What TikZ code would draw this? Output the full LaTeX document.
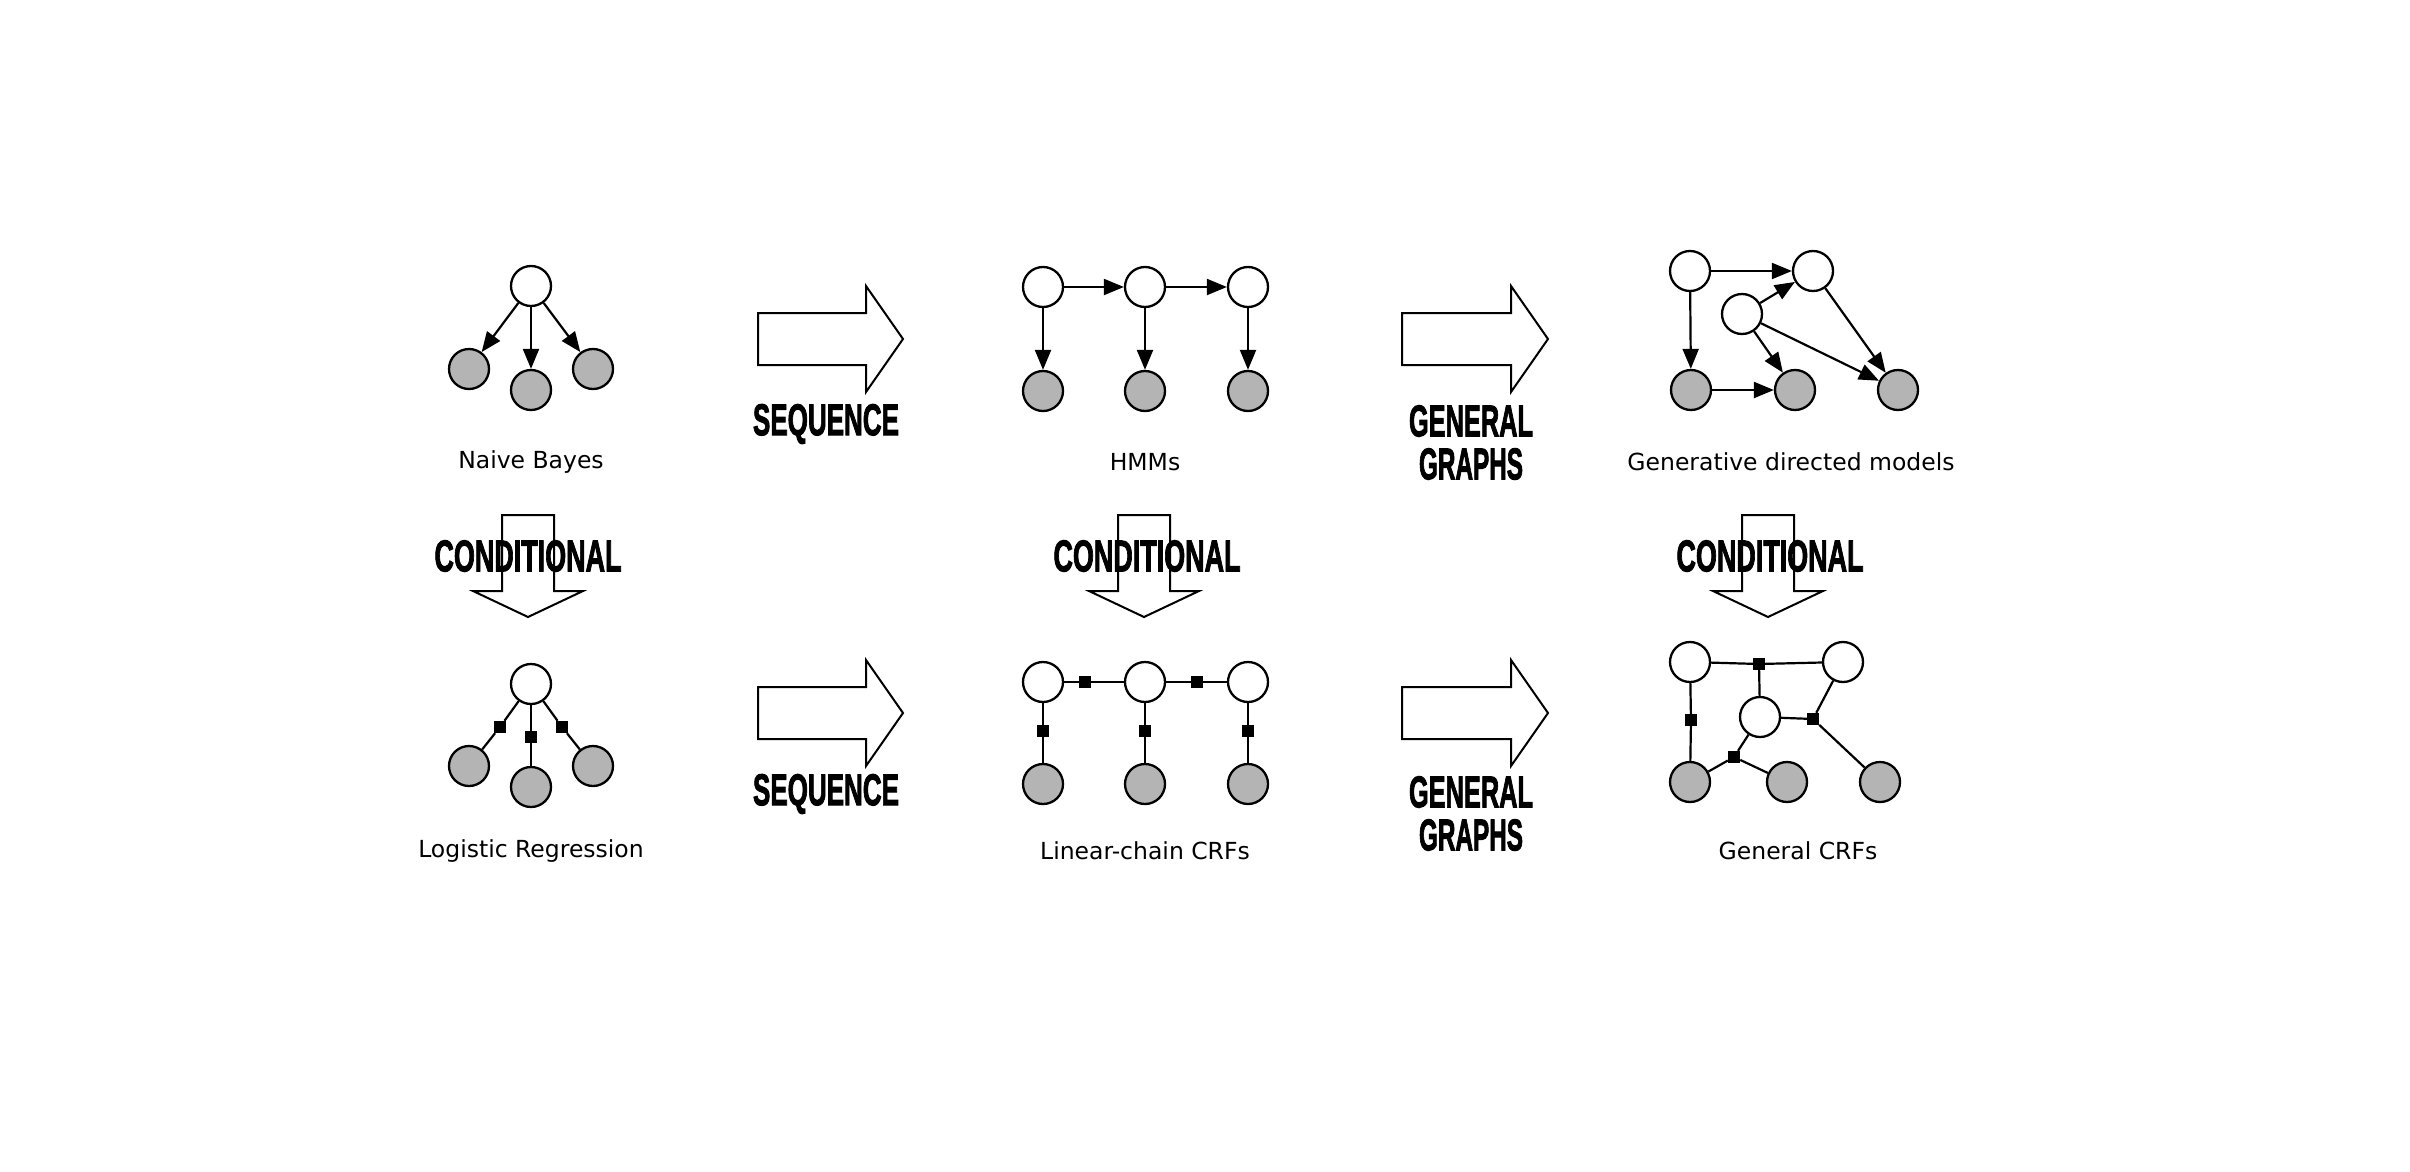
\documentclass[tikz,border=0pt]{standalone}
\usepackage{fontspec}
\usepackage{graphicx}
\setmainfont{DejaVu Sans}
\newfontfamily\heavyfont[BoldFeatures={FakeBold=2.5}]{Liberation Sans}
\usetikzlibrary{arrows.meta}
\definecolor{obsgray}{RGB}{180,180,180}
\newcommand{\bigword}[3]{\resizebox{#1pt}{#2pt}{\heavyfont\bfseries #3}}
\tikzset{
  lat/.style={circle, draw, line width=2.3pt, minimum size=40pt, inner sep=0pt, fill=white},
  obs/.style={lat, fill=obsgray},
  fac/.style={rectangle, fill=black, minimum size=12pt, inner sep=0pt},
  dir/.style={line width=2.2pt, -{Triangle[length=20pt,width=16pt]}},
  und/.style={line width=2.2pt},
  lbl/.style={font=\fontsize{23.5}{28}\selectfont, inner sep=0pt},
  fat/.style={line width=2pt, fill=white, line join=miter},
  word/.style={inner sep=0pt}
}
\begin{document}
\begin{tikzpicture}[x=1pt,y=-1pt]
\useasboundingbox (0,0) rectangle (2410,1172);

% ---------- Naive Bayes ----------
\node[lat] (nb0) at (531,286) {};
\node[obs] (nb1) at (469,369) {};
\node[obs] (nb2) at (531,390) {};
\node[obs] (nb3) at (593,369) {};
\draw[dir] (nb0) -- (nb1);
\draw[dir] (nb0) -- (nb2);
\draw[dir] (nb0) -- (nb3);
\node[lbl] (nbl) at (531,462) {Naive Bayes};

% ---------- HMMs ----------
\node[lat] (h1) at (1043,287) {};
\node[lat] (h2) at (1145,287) {};
\node[lat] (h3) at (1248,287) {};
\node[obs] (o1) at (1043,391) {};
\node[obs] (o2) at (1145,391) {};
\node[obs] (o3) at (1248,391) {};
\draw[dir] (h1) -- (h2);
\draw[dir] (h2) -- (h3);
\draw[dir] (h1) -- (o1);
\draw[dir] (h2) -- (o2);
\draw[dir] (h3) -- (o3);
\node[lbl] (hl) at (1145,462) {HMMs};

% ---------- Generative directed models ----------
\node[lat] (ga) at (1690,271) {};
\node[lat] (gb) at (1813,271) {};
\node[lat] (gc) at (1742,314) {};
\node[obs] (gd) at (1691,390) {};
\node[obs] (ge) at (1795,390) {};
\node[obs] (gf) at (1898,390) {};
\draw[dir] (ga) -- (gb);
\draw[dir] (ga) -- (gd);
\draw[dir] (gc) -- (gb);
\draw[dir] (gc) -- (ge);
\draw[dir] (gc) -- (gf);
\draw[dir] (gb) -- (gf);
\draw[dir] (gd) -- (ge);
\node[lbl] (gl) at (1791,462) {Generative directed models};

% ---------- Logistic Regression ----------
\node[lat] (lr0) at (531,684) {};
\node[obs] (lr1) at (469,766) {};
\node[obs] (lr2) at (531,787) {};
\node[obs] (lr3) at (593,766) {};
\node[fac] (lf1) at (500,727) {};
\node[fac] (lf2) at (531,737) {};
\node[fac] (lf3) at (562,727) {};
\draw[und] (lr0) -- (lf1) -- (lr1);
\draw[und] (lr0) -- (lf2) -- (lr2);
\draw[und] (lr0) -- (lf3) -- (lr3);
\node[lbl] (lrl) at (531,851) {Logistic Regression};

% ---------- Linear-chain CRFs ----------
\node[lat] (c1) at (1043,682) {};
\node[lat] (c2) at (1145,682) {};
\node[lat] (c3) at (1248,682) {};
\node[obs] (d1) at (1043,784) {};
\node[obs] (d2) at (1145,784) {};
\node[obs] (d3) at (1248,784) {};
\node[fac] (cf1) at (1085,682) {};
\node[fac] (cf2) at (1197,682) {};
\node[fac] (cv1) at (1043,731) {};
\node[fac] (cv2) at (1145,731) {};
\node[fac] (cv3) at (1248,731) {};
\draw[und] (c1) -- (cf1) -- (c2);
\draw[und] (c2) -- (cf2) -- (c3);
\draw[und] (c1) -- (cv1) -- (d1);
\draw[und] (c2) -- (cv2) -- (d2);
\draw[und] (c3) -- (cv3) -- (d3);
\node[lbl] (cl) at (1145,851) {Linear-chain CRFs};

% ---------- General CRFs ----------
\node[lat] (ka) at (1690,662) {};
\node[lat] (kb) at (1843,662) {};
\node[lat] (kc) at (1760,717) {};
\node[obs] (kd) at (1690,782) {};
\node[obs] (ke) at (1787,782) {};
\node[obs] (kf) at (1880,782) {};
\node[fac] (kf1) at (1759,664) {};
\node[fac] (kf2) at (1691,720) {};
\node[fac] (kf3) at (1813,719) {};
\node[fac] (kf4) at (1734,757) {};
\draw[und] (ka) -- (kf1) -- (kb);
\draw[und] (kf1) -- (kc);
\draw[und] (ka) -- (kf2) -- (kd);
\draw[und] (kc) -- (kf3) -- (kb);
\draw[und] (kf3) -- (kf);
\draw[und] (kc) -- (kf4) -- (kd);
\draw[und] (kf4) -- (ke);
\node[lbl] (kl) at (1798,851) {General CRFs};

% ---------- Right fat arrows ----------
\draw[fat] (758,313) -- (866,313) -- (866,286) -- (903,339) -- (866,392) -- (866,365) -- (758,365) -- cycle;
\draw[fat] (1402,313) -- (1511,313) -- (1511,286) -- (1548,339) -- (1511,392) -- (1511,365) -- (1402,365) -- cycle;
\draw[fat] (758,687) -- (866,687) -- (866,660) -- (903,713) -- (866,766) -- (866,739) -- (758,739) -- cycle;
\draw[fat] (1402,687) -- (1511,687) -- (1511,660) -- (1548,713) -- (1511,766) -- (1511,739) -- (1402,739) -- cycle;

\node[word] (s1) at (826,424) {\bigword{146}{31}{SEQUENCE}};
\node[word] (s2) at (826,794) {\bigword{146}{31}{SEQUENCE}};
\node[word] (g1) at (1471,421) {\bigword{124}{31}{GENERAL}};
\node[word] (g2) at (1471,464) {\bigword{104}{31}{GRAPHS}};
\node[word] (g3) at (1471,792) {\bigword{124}{31}{GENERAL}};
\node[word] (g4) at (1471,835) {\bigword{104}{31}{GRAPHS}};

% ---------- Down fat arrows ----------
\foreach \cx in {528,1144,1768}{
  \draw[fat] (\cx-26,515) -- (\cx+26,515) -- (\cx+26,591) -- (\cx+55,591) -- (\cx,617) -- (\cx-55,591) -- (\cx-26,591) -- cycle;
}
\node[word] (k1) at (528,556) {\bigword{187}{31}{CONDITIONAL}};
\node[word] (k2) at (1147,556) {\bigword{187}{31}{CONDITIONAL}};
\node[word] (k3) at (1770,556) {\bigword{187}{31}{CONDITIONAL}};
\end{tikzpicture}
\end{document}
